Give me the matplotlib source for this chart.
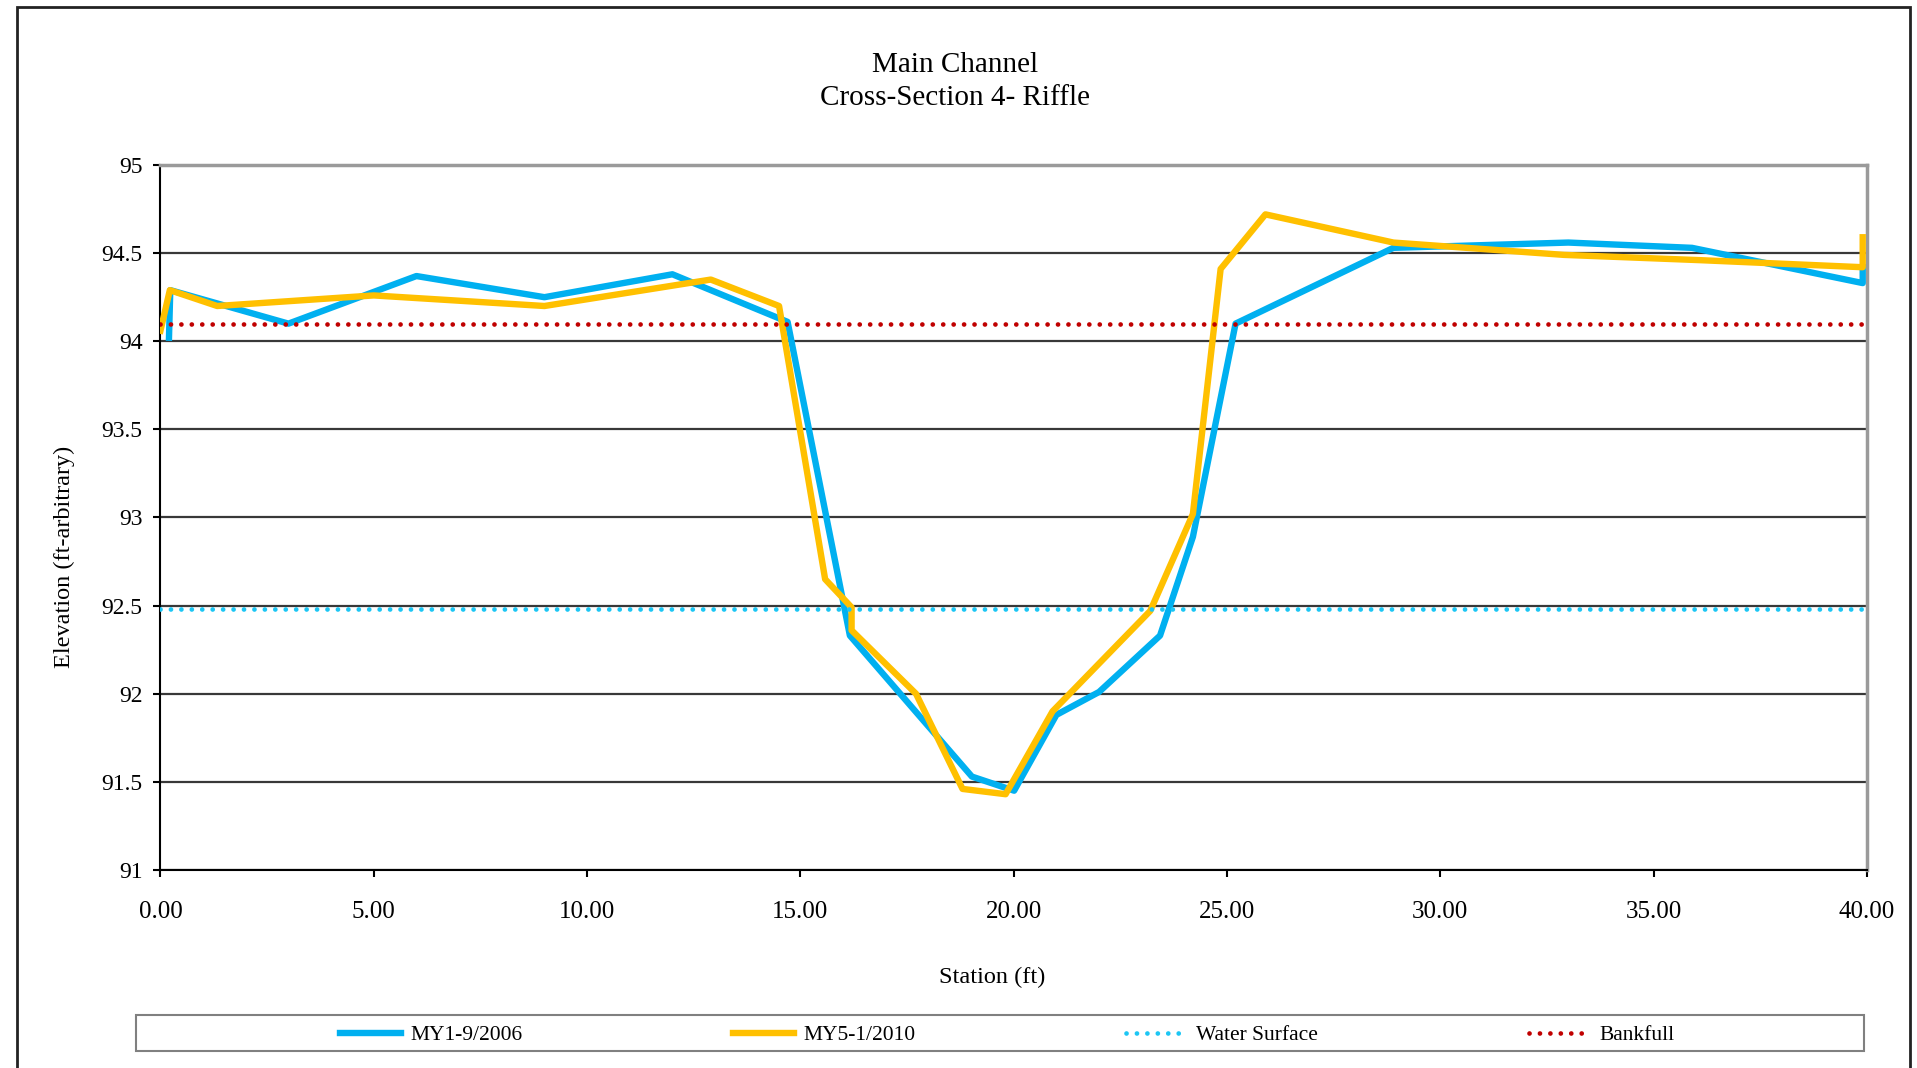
import matplotlib
matplotlib.use("Agg")
import matplotlib.pyplot as plt
from matplotlib.patches import Rectangle

# station (ft) / elevation (ft)
my1_x = [0.20, 0.23, 3.0, 6.0, 9.0, 12.0, 14.7, 16.16, 19.02, 20.01, 21.0, 22.0, 23.43, 24.2, 25.2, 28.9, 33.0, 35.9, 39.9, 39.9]
my1_y = [94.02, 94.29, 94.10, 94.37, 94.25, 94.38, 94.11, 92.33, 91.53, 91.45, 91.88, 92.01, 92.33, 92.89, 94.10, 94.53, 94.56, 94.53, 94.33, 94.42]

my5_x = [0.0, 0.22, 1.33, 5.0, 9.0, 12.9, 14.5, 15.58, 16.2, 16.2, 17.71, 18.8, 19.81, 20.91, 23.2, 24.2, 24.85, 25.9, 28.9, 32.9, 36.1, 39.9, 39.9]
my5_y = [94.06, 94.29, 94.20, 94.26, 94.20, 94.35, 94.20, 92.65, 92.49, 92.36, 92.00, 91.46, 91.43, 91.90, 92.47, 93.02, 94.41, 94.72, 94.56, 94.49, 94.46, 94.42, 94.59]

ws_x = [0.0, 40.0]
ws_y = [92.48, 92.48]
bkf_x = [0.0, 40.0]
bkf_y = [94.10, 94.10]

x_ticks = [0, 5, 10, 15, 20, 25, 30, 35, 40]
y_ticks = [91, 91.5, 92, 92.5, 93, 93.5, 94, 94.5, 95]

plt.rcParams['font.family'] = ['Liberation Serif', 'DejaVu Serif']

fig = plt.figure(figsize=(19.17, 10.68), dpi=100)
ax = fig.add_axes([0.0837, 0.1854, 0.8902, 0.6601])

dot = dict(lw=3.4, dashes=(0.01, 2.2), dash_capstyle="round")
ax.plot(my1_x, my1_y, color="#00B0F0", lw=4.6, label="MY1-9/2006", zorder=3)
ax.plot(my5_x, my5_y, color="#FFC000", lw=4.6, label="MY5-1/2010", zorder=4)
ax.plot(ws_x, ws_y, color="#1CC6F4", label="Water Surface", zorder=5, **dot)
ax.plot(bkf_x, bkf_y, color="#C00000", label="Bankfull", zorder=5, **dot)

ax.set_xlim(0, 40)
ax.set_ylim(91, 95)
ax.set_xticks(x_ticks)
ax.set_xticklabels(["%.2f" % v for v in x_ticks])
ax.set_yticks(y_ticks)
ax.set_yticklabels(["%g" % v for v in y_ticks])
ax.tick_params(labelsize=17, direction="out", length=5, width=1.5, color="black", pad=8)
ax.tick_params(axis="x", labelsize=18, pad=17)
ax.grid(True, axis="y", color="#383838", lw=1.6)
ax.set_axisbelow(True)
for s in ["left", "bottom"]:
    ax.spines[s].set_color("black")
    ax.spines[s].set_linewidth(1.5)
for s in ["top", "right"]:
    ax.spines[s].set_color("#9a9a9a")
    ax.spines[s].set_linewidth(2.5)

fig.text(0.498, 0.9395, "Main Channel", ha="center", va="center", fontsize=21)
fig.text(0.498, 0.9085, "Cross-Section 4- Riffle", ha="center", va="center", fontsize=21)
fig.text(0.5175, 0.085, "Station (ft)", ha="center", va="center", fontsize=17.5)
fig.text(0.0334, 0.479, "Elevation (ft-arbitrary)", ha="center", va="center", rotation=90, fontsize=17.5)

# outer chart border and legend box
fig.patches.append(Rectangle((0.00887, -0.02), 0.98748, 1.01345, transform=fig.transFigure,
                             fill=False, edgecolor="#222222", lw=2))
fig.patches.append(Rectangle((0.0709, 0.0159), 0.9014, 0.0337, transform=fig.transFigure,
                             fill=False, edgecolor="#808080", lw=1.5))
fig.legend(loc="center", bbox_to_anchor=(0.5255, 0.0305), ncol=4, frameon=False,
           fontsize=15.5, handlelength=2.8, handletextpad=0.45, columnspacing=9.8)

fig.savefig("out.png", dpi=100)
